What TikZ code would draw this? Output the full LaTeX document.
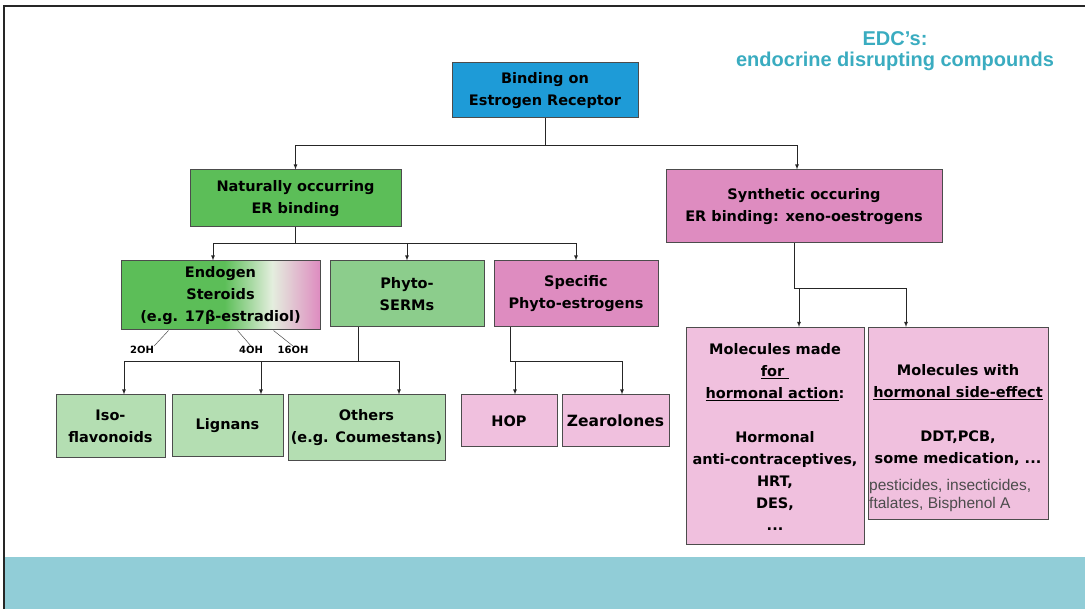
\documentclass[tikz,border=0pt]{standalone}
\usepackage{fontspec}
\setmainfont{DejaVu Sans}
\newfontfamily\edcfont{Liberation Sans}[BoldFont={Liberation Sans Bold}]
\usepackage{tikz}
\usetikzlibrary{arrows}

\definecolor{rootblue}{RGB}{30,155,215}
\definecolor{natgreen}{RGB}{92,190,88}
\definecolor{midgreen}{RGB}{140,205,140}
\definecolor{palegreen}{RGB}{180,222,178}
\definecolor{synpink}{RGB}{222,140,192}
\definecolor{palepink}{RGB}{240,192,222}
\definecolor{endomid}{RGB}{228,238,222}
\definecolor{edcteal}{RGB}{58,172,192}
\definecolor{bandteal}{RGB}{145,205,215}
\pgfdeclarehorizontalshading{endoshade}{100bp}{color(0bp)=(natgreen); color(25bp)=(natgreen);
    color(51bp)=(natgreen); color(63bp)=(endomid); color(75bp)=(synpink); color(100bp)=(synpink)}

\begin{document}
\begin{tikzpicture}[x=1pt, y=-1pt,
                box/.style={draw=black!70, line width=1pt, align=center, inner sep=0pt,
                    font=\fontsize{14.5}{22}\selectfont\bfseries}, % boxes of the tree
                arr/.style={-latex, line width=0.8pt, draw=black!85}, % connectors
                oh/.style={font=\fontsize{10}{11}\selectfont\bfseries, inner sep=0pt} % small labels
                ]
                \useasboundingbox (0,0) rectangle (1085,609);
                % frame and bottom band
                \fill[bandteal] (5,557) rectangle (1085,609);
                \draw[line width=1.5pt, black!85] (4,609) -- (4,6) -- (1085,6);
                % title
                \node[font=\edcfont\fontsize{20}{21}\selectfont\bfseries, text=edcteal, align=center]
                    (edc) at (895,51) {EDC’s:\\endocrine disrupting compounds};
                % first levels
                \node[box, fill=rootblue, minimum width=186, minimum height=55] (root) at (545,90.5) {Binding on\\Estrogen Receptor};
                \node[box, fill=natgreen, minimum width=211, minimum height=57] (nat) at (295.5,198.5) {Naturally occurring\\ER binding};
                \node[box, fill=synpink, minimum width=276, minimum height=73] (syn) at (804,206.5) {Synthetic occuring\\ER binding: xeno-oestrogens};
                % natural branch
                \node[box, shading=endoshade, minimum width=199, minimum height=69] (endo) at (220.5,295.5) {Endogen\\Steroids\\(e.g. 17β-estradiol)};
                \node[box, fill=midgreen, minimum width=154, minimum height=66] (serm) at (407,294) {Phyto-\\SERMs};
                \node[box, fill=synpink, minimum width=164, minimum height=66] (spec) at (576,294) {Specific\\Phyto-estrogens};
                \node[oh] (oh2) at (142,350) {2OH};
                \node[oh] (oh4) at (251,350) {4OH};
                \node[oh] (oh16) at (293,350) {16OH};
                \draw[black!70, line width=0.5pt] ([xshift=-52pt]endo.south) -- (oh2.north east);
                \draw[black!70, line width=0.5pt] ([xshift=17pt]endo.south) -- (oh4.north);
                \draw[black!70, line width=0.5pt] ([xshift=53pt]endo.south) -- (oh16.north);
                % leaves
                \node[box, fill=palegreen, minimum width=109, minimum height=63] (iso) at (110.5,426.5) {Iso-\\flavonoids};
                \node[box, fill=palegreen, minimum width=111, minimum height=62] (lig) at (227.5,426) {Lignans};
                \node[box, fill=palegreen, minimum width=157, minimum height=66] (oth) at (366.5,428) {Others\\(e.g. Coumestans)};
                \node[box, fill=palepink, minimum width=96, minimum height=52] (hop) at (509,421) {HOP};
                \node[box, fill=palepink, minimum width=107, minimum height=52,
                    font=\fontsize{15.5}{22}\selectfont\bfseries] (zea) at (615.5,421) {Zearolones};
                % synthetic branch
                \node[box, fill=palepink, minimum width=178, minimum height=217, anchor=north] (made) at (775,327) {};
                \node[box, fill=palepink, minimum width=180, minimum height=192, anchor=north] (side) at (958,327) {};
                \node[font=\fontsize{14.5}{22}\selectfont\bfseries, align=center, anchor=north, inner sep=0pt]
                    (madetxt) at (775,343) {Molecules made\\\underline{for\ }\\\underline{hormonal action}:\\[22pt]Hormonal\\anti-contraceptives,\\HRT,\\DES,\\...};
                \node[font=\fontsize{14.5}{22}\selectfont\bfseries, align=center, anchor=north, inner sep=0pt]
                    (sidetxt) at (958,364) {Molecules with\\\underline{hormonal side-effect}\\[22pt]DDT,PCB,\\some medication, ...};
                \node[font=\edcfont\fontsize{15.5}{18.5}\selectfont, text=black!70, align=left, anchor=north west, inner sep=0pt]
                    (pest) at (869,479) {pesticides, insecticides,\\ftalates, Bisphenol A};
                % connectors
                \draw[arr] (root.south) -- ++(0,27) -| (nat.north);
                \draw[arr] (root.south) -- ++(0,27) -| ([xshift=-7pt]syn.north);
                \draw[arr] (nat.south) -- ++(0,16) -| ([xshift=-7.5pt]endo.north);
                \draw[arr] (nat.south) -- ++(0,16) -| (serm.north);
                \draw[arr] (nat.south) -- ++(0,16) -| (spec.north);
                \draw[arr] ([xshift=-49pt]serm.south) -- ++(0,34) -| ([xshift=13.5pt]iso.north);
                \draw[arr] ([xshift=-49pt]serm.south) -- ++(0,34) -| ([xshift=33.5pt]lig.north);
                \draw[arr] ([xshift=-49pt]serm.south) -- ++(0,34) -| ([xshift=32.5pt]oth.north);
                \draw[arr] ([xshift=-66pt]spec.south) -- ++(0,34) -| ([xshift=6pt]hop.north);
                \draw[arr] ([xshift=-66pt]spec.south) -- ++(0,34) -| ([xshift=6.5pt]zea.north);
                \draw[arr] ([xshift=-10pt]syn.south) -- ++(0,45) -| ([xshift=24pt]made.north);
                \draw[arr] ([xshift=-10pt]syn.south) -- ++(0,45) -| ([xshift=-52pt]side.north);
            \end{tikzpicture}
\end{document}
